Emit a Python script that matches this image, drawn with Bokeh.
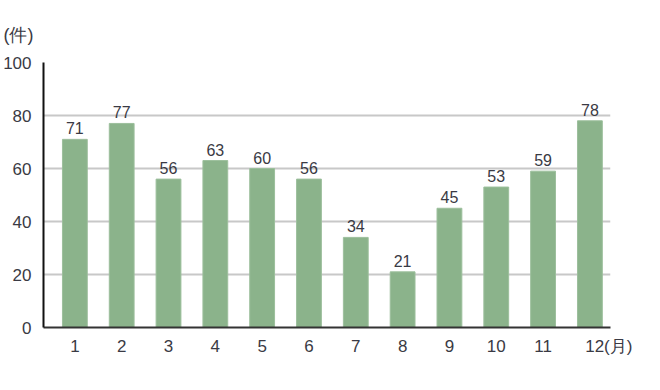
from bokeh.plotting import figure
from bokeh.models import ColumnDataSource, FixedTicker, Range1d, LabelSet, Title
from bokeh.core.properties import value
from bokeh.embed import file_html
from bokeh.resources import INLINE

months = [1, 2, 3, 4, 5, 6, 7, 8, 9, 10, 11, 12]
counts = [71, 77, 56, 63, 60, 56, 34, 21, 45, 53, 59, 78]
y_ticks = [0, 20, 40, 60, 80, 100]
y_unit = "(件)"
x_unit = "(月)"

src = ColumnDataSource(dict(x=months, y=counts, lbl=[str(c) for c in counts]))

FONT = "Liberation Sans"
TXT = "#3a3a44"

p = figure(width=650, height=385, output_backend="svg", toolbar_location=None,
           x_range=Range1d(0.33, 12.44), y_range=Range1d(0, 100),
           min_border_left=41, min_border_right=40, min_border_top=62, min_border_bottom=58)
p.outline_line_color = None
p.background_fill_color = "white"
p.border_fill_color = "white"

p.vbar(x="x", top="y", width=0.53, source=src, fill_color="#8bb38b", line_color="#9cbf9c", line_width=1)

labels = LabelSet(x="x", y="y", text="lbl", source=src, text_align="center", text_baseline="bottom",
                  y_offset=5, text_font_size="16px", text_color=TXT, text_font=value(FONT))
p.add_layout(labels)

p.xgrid.grid_line_color = None
p.ygrid.grid_line_color = "#c8c8c8"
p.ygrid.grid_line_width = 2
p.ygrid.ticker = FixedTicker(ticks=y_ticks)

p.yaxis.ticker = FixedTicker(ticks=y_ticks)
p.xaxis.ticker = FixedTicker(ticks=months)
for ax in (p.xaxis, p.yaxis):
    ax.major_tick_line_color = None
    ax.minor_tick_line_color = None
    ax.major_label_text_font = FONT
    ax.major_label_text_font_size = "17px"
    ax.major_label_text_color = TXT
p.yaxis.axis_line_color = "#111111"
p.yaxis.axis_line_width = 2
p.xaxis.axis_line_color = "#333333"
p.xaxis.axis_line_width = 2
p.yaxis.major_label_standoff = 6
p.xaxis.major_label_standoff = 3
# unit of the x axis written right after the last month
p.xaxis.major_label_overrides = {12: "\u2007\u2007\u2007\u200712" + x_unit}

p.add_layout(Title(text=y_unit, align="left", offset=-40, standoff=35,
                   text_font=FONT, text_font_size="18px", text_font_style="normal",
                   text_color=TXT), "above")

open("out.html", "w").write(file_html(p, INLINE))
